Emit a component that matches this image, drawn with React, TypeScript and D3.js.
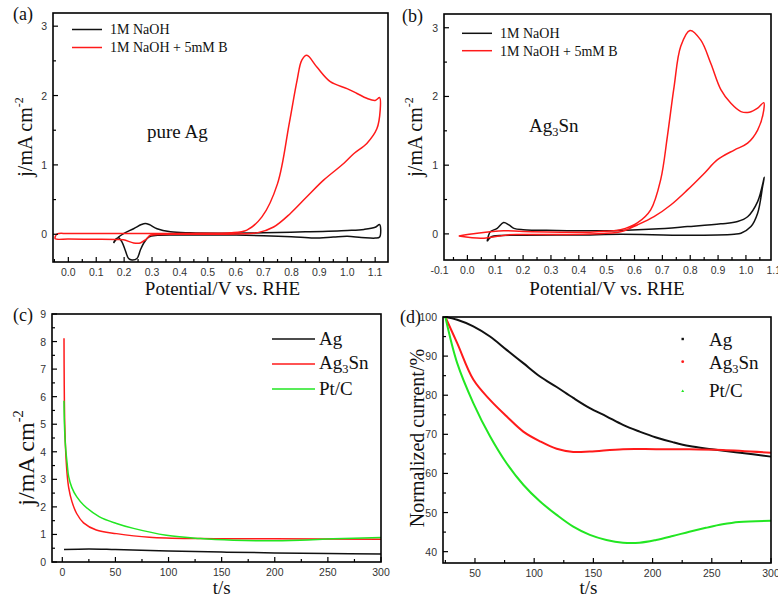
import React from "react";
import * as d3 from "d3";

// ---------- data ----------
// Panel (a): pure Ag CV
const aNaOH: [number, number][] = [
  [0.162, -0.125], [0.18, -0.04], [0.198, 0.01], [0.234, 0.08], [0.262, 0.14], [0.276, 0.155],
  [0.29, 0.14], [0.318, 0.08], [0.366, 0.035], [0.437, 0.02], [0.55, 0.015], [0.7, 0.02],
  [0.85, 0.035], [1.0, 0.055], [1.06, 0.07], [1.1, 0.1], [1.116, 0.14],
  [1.116, -0.04], [1.1, -0.055], [1.05, -0.045], [1.0, -0.03], [0.95, -0.04], [0.88, -0.055],
  [0.8, -0.035], [0.7, -0.02], [0.55, -0.01], [0.4, -0.01], [0.32, -0.015], [0.288, -0.04],
  [0.27, -0.13], [0.258, -0.23], [0.246, -0.35], [0.228, -0.37], [0.216, -0.35], [0.204, -0.23],
  [0.192, -0.11], [0.18, -0.05], [0.17, -0.07], [0.162, -0.125],
];
const aBoron: [number, number][] = [
  [-0.047, -0.035], [-0.04, 0.005], [0.0, 0.01], [0.2, 0.01], [0.4, 0.01], [0.5, 0.015],
  [0.58, 0.02], [0.64, 0.06], [0.694, 0.25], [0.75, 0.73], [0.792, 1.6], [0.82, 2.22],
  [0.837, 2.51], [0.855, 2.58], [0.891, 2.41], [0.939, 2.2], [0.999, 2.1], [1.035, 2.03],
  [1.07, 1.96], [1.1, 1.93], [1.116, 1.97],
  [1.118, 1.79], [1.106, 1.52], [1.07, 1.31], [1.023, 1.16], [0.987, 1.02], [0.915, 0.78],
  [0.855, 0.54], [0.796, 0.3], [0.736, 0.105], [0.676, 0.02], [0.6, 0.005], [0.5, 0.0],
  [0.4, 0.0], [0.32, -0.005], [0.294, -0.015], [0.276, -0.08], [0.258, -0.125], [0.234, -0.125],
  [0.198, -0.08], [0.17, -0.075], [0.1, -0.072], [0.0, -0.07], [-0.047, -0.065], [-0.047, -0.035],
];
// Panel (b): Ag3Sn CV
const bNaOH: [number, number][] = [
  [0.071, -0.11], [0.076, -0.02], [0.083, 0.035], [0.107, 0.08], [0.13, 0.165], [0.149, 0.13],
  [0.167, 0.08], [0.2, 0.06], [0.32, 0.05], [0.44, 0.045], [0.55, 0.05], [0.67, 0.07],
  [0.79, 0.106], [0.91, 0.146], [0.97, 0.18], [1.006, 0.25], [1.042, 0.47], [1.066, 0.825],
  [1.06, 0.69], [1.042, 0.3], [1.018, 0.106], [0.982, 0.01], [0.958, -0.005], [0.79, -0.02],
  [0.55, -0.005], [0.44, -0.015], [0.2, -0.02], [0.095, -0.03], [0.083, -0.05], [0.071, -0.11],
];
const bBoron: [number, number][] = [
  [-0.031, -0.03], [0.035, 0.01], [0.13, 0.045], [0.2, 0.035], [0.44, 0.025], [0.5, 0.04],
  [0.55, 0.06], [0.61, 0.16], [0.658, 0.35], [0.694, 0.79], [0.718, 1.42], [0.742, 2.14],
  [0.766, 2.73], [0.799, 2.96], [0.838, 2.82], [0.874, 2.48], [0.91, 2.1], [0.946, 1.9],
  [0.982, 1.78], [1.012, 1.77], [1.042, 1.83], [1.064, 1.91],
  [1.064, 1.8], [1.042, 1.51], [1.006, 1.32], [0.958, 1.22], [0.898, 1.08], [0.85, 0.88],
  [0.79, 0.64], [0.73, 0.42], [0.67, 0.25], [0.61, 0.13], [0.55, 0.03], [0.44, 0.0],
  [0.2, -0.01], [0.143, -0.015], [0.083, -0.05], [0.047, -0.063], [-0.031, -0.03],
];
// Panel (c): chronoamperometry
const cAg: [number, number][] = [
  [1.6, 0.45], [25, 0.47], [50, 0.45], [100, 0.4], [150, 0.36], [200, 0.33], [250, 0.31], [300, 0.29],
];
const cAg3Sn: [number, number][] = [
  [1.6, 8.12], [1.8, 6.5], [2.3, 5.0], [3.2, 4.0], [4.5, 3.2], [6, 2.7], [9, 2.2], [13.5, 1.76],
  [20, 1.42], [32, 1.16], [51, 1.03], [82, 0.9], [130, 0.85], [200, 0.84], [300, 0.83],
];
const cPtC: [number, number][] = [
  [1.6, 5.85], [2, 5.0], [3, 4.2], [4.5, 3.6], [6, 3.1], [9, 2.7], [13.5, 2.37], [20, 2.07],
  [35, 1.64], [51, 1.4], [67, 1.22], [98, 0.97], [130, 0.85], [161, 0.79], [192, 0.77],
  [224, 0.79], [255, 0.84], [300, 0.89],
];
// Panel (d): normalized current
const dAg: [number, number][] = [
  [25, 100], [35, 99.3], [48.6, 97.6], [62.7, 95], [76.7, 91.6], [90.8, 88.2], [104.9, 84.8],
  [119, 82.1], [133, 79.3], [147, 76.7], [161, 74.6], [175, 72.4], [189, 70.7], [203, 69.2],
  [217, 68], [231, 67], [250, 66.2], [274, 65.3], [300, 64.3],
];
const dAg3Sn: [number, number][] = [
  [25, 100], [35, 93.3], [48.6, 84], [62.7, 78.8], [76.7, 74.6], [90.8, 70.7], [105, 68.2],
  [119, 66.3], [133, 65.5], [147, 65.6], [175, 66.2], [203, 66.2], [231, 66.2], [259, 66.0], [300, 65.3],
];
const dPtC: [number, number][] = [
  [25, 100], [35, 88.2], [48.6, 78], [62.7, 69.5], [76.7, 62.6], [90.8, 57.1], [105, 52.8],
  [119, 49.4], [133, 46.4], [147, 44.3], [161, 43.0], [175, 42.3], [189, 42.3], [203, 43],
  [217, 44], [231, 45.1], [245, 46.1], [259, 47], [273, 47.6], [300, 47.9],
];

// tick labels
const aXTicks = [0, 0.1, 0.2, 0.3, 0.4, 0.5, 0.6, 0.7, 0.8, 0.9, 1.0, 1.1];
const bXTicks = [-0.1, 0, 0.1, 0.2, 0.3, 0.4, 0.5, 0.6, 0.7, 0.8, 0.9, 1.0, 1.1];
const cvYTicks = [0, 1, 2, 3];
const cXTicks = [0, 50, 100, 150, 200, 250, 300];
const cYTicks = [0, 1, 2, 3, 4, 5, 6, 7, 8, 9];
const dXTicks = [50, 100, 150, 200, 250, 300];
const dYTicks = [40, 50, 60, 70, 80, 90, 100];

const RED = "#ff1a1a";
const GREEN = "#22e622";
const BLACK = "#111";
const SERIF = "'Liberation Serif', 'Times New Roman', serif";
const SANS = "'Liberation Sans', Arial, sans-serif";

type Box = { x0: number; x1: number; y0: number; y1: number; xd: [number, number]; yd: [number, number] };

function Frame({ b, xt, yt, xMinor, yMinor, xFmt, yFmt }: {
  b: Box; xt: number[]; yt: number[]; xMinor: number; yMinor: number;
  xFmt: (v: number) => string; yFmt: (v: number) => string;
}) {
  const x = d3.scaleLinear().domain(b.xd).range([b.x0, b.x1]);
  const y = d3.scaleLinear().domain(b.yd).range([b.y1, b.y0]);
  const inY = (v: number) => v >= b.yd[0] - 1e-9 && v <= b.yd[1] + 1e-9;
  const xm = d3.range(Math.ceil(b.xd[0] / xMinor) * xMinor, b.xd[1] + 1e-9, xMinor);
  const ym = d3.range(Math.ceil(b.yd[0] / yMinor) * yMinor, b.yd[1] + 1e-9, yMinor);
  return (
    <g>
      {xm.map((v, i) => {
        const major = xt.some((t) => Math.abs(t - v) < 1e-6);
        const len = major ? 5 : 3;
        return <line key={"xm" + i} x1={x(v)} x2={x(v)} y1={b.y1} y2={b.y1 - len} stroke="#000" strokeWidth={1.2} />;
      })}
      {ym.map((v, i) => {
        const major = yt.some((t) => Math.abs(t - v) < 1e-6);
        const len = major ? 5 : 3;
        return <line key={"ym" + i} x1={b.x0} x2={b.x0 + len} y1={y(v)} y2={y(v)} stroke="#000" strokeWidth={1.2} />;
      })}
      {xt.map((v, i) => (
        <text key={"xl" + i} x={x(v)} y={b.y1 + 14} textAnchor="middle" fontFamily={SANS} fontSize={10.5} fill="#333">
          {xFmt(v)}
        </text>
      ))}
      {yt.filter(inY).map((v, i) => (
        <text key={"yl" + i} x={b.x0 - 6} y={y(v) + 4} textAnchor="end" fontFamily={SANS} fontSize={10.5} fill="#333">
          {yFmt(v)}
        </text>
      ))}
      <rect x={b.x0} y={b.y0} width={b.x1 - b.x0} height={b.y1 - b.y0} fill="none" stroke="#000" strokeWidth={1.6} />
    </g>
  );
}

function Curve({ b, data, color, w = 1.5 }: { b: Box; data: [number, number][]; color: string; w?: number }) {
  const x = d3.scaleLinear().domain(b.xd).range([b.x0, b.x1]);
  const y = d3.scaleLinear().domain(b.yd).range([b.y1, b.y0]);
  const line = d3.line<[number, number]>().x((d) => x(d[0])).y((d) => y(d[1])).curve(d3.curveCatmullRom.alpha(0.5));
  return <path d={line(data) || ""} fill="none" stroke={color} strokeWidth={w} strokeLinejoin="round" />;
}

function Sub({ base, sub, rest }: { base: string; sub: string; rest: string }) {
  return (
    <>
      {base}
      <tspan fontSize="0.65em" dy={4}>{sub}</tspan>
      <tspan dy={-4}>{rest}</tspan>
    </>
  );
}

function YTitle({ x, y, children, size = 20 }: { x: number; y: number; children: React.ReactNode; size?: number }) {
  return (
    <text transform={`translate(${x},${y}) rotate(-90)`} textAnchor="middle" fontFamily={SERIF} fontSize={size} fill="#111">
      {children}
    </text>
  );
}

const JTitle = ({ up = 9 }: { up?: number }) => (
  <>
    j/mA cm<tspan fontSize="0.6em" dy={-up}>-2</tspan>
  </>
);

export default function App() {
  const A: Box = { x0: 53, x1: 388, y0: 13, y1: 262, xd: [-0.055, 1.146], yd: [-0.4, 3.19] };
  const B: Box = { x0: 444, x1: 771, y0: 14, y1: 260, xd: [-0.084, 1.09], yd: [-0.38, 3.2] };
  const C: Box = { x0: 52, x1: 381, y0: 314, y1: 562, xd: [-9.7, 300], yd: [0, 9] };
  const D: Box = { x0: 443, x1: 771, y0: 317, y1: 563, xd: [23, 300], yd: [37.1, 100] };
  const f1 = (v: number) => v.toFixed(1);
  const f0 = (v: number) => String(v);
  const cx = (b: Box) => d3.scaleLinear().domain(b.xd).range([b.x0, b.x1]);

  return (
    <svg width={778} height={598} style={{ position: "absolute", left: 0, top: 0, background: "#fff" }}>
      <rect x={0} y={0} width={778} height={598} fill="#fff" />

      {/* Panel (a) */}
      <Curve b={A} data={aNaOH} color={BLACK} />
      <Curve b={A} data={aBoron} color={RED} />
      <Frame b={A} xt={aXTicks} yt={cvYTicks} xMinor={0.05} yMinor={0.5} xFmt={f1} yFmt={f0} />
      <line x1={72} x2={102} y1={29.5} y2={29.5} stroke={BLACK} strokeWidth={1.5} />
      <line x1={72} x2={102} y1={47.5} y2={47.5} stroke={RED} strokeWidth={1.5} />
      <text x={110} y={34} fontFamily={SERIF} fontSize={14} fill="#111">1M NaOH</text>
      <text x={110} y={52} fontFamily={SERIF} fontSize={14} fill="#111">1M NaOH + 5mM B</text>
      <text x={147} y={138} fontFamily={SERIF} fontSize={19} fill="#111">pure Ag</text>
      <text x={13} y={20} fontFamily={SERIF} fontSize={18} fill="#111">(a)</text>
      <text x={(A.x0 + A.x1) / 2 + 2} y={295} textAnchor="middle" fontFamily={SERIF} fontSize={19} fill="#111">Potential/V vs. RHE</text>
      <YTitle x={32} y={137}><JTitle /></YTitle>

      {/* Panel (b) */}
      <Curve b={B} data={bNaOH} color={BLACK} />
      <Curve b={B} data={bBoron} color={RED} />
      <Frame b={B} xt={bXTicks} yt={cvYTicks} xMinor={0.05} yMinor={0.5} xFmt={f1} yFmt={f0} />
      <line x1={462} x2={492} y1={33.3} y2={33.3} stroke={BLACK} strokeWidth={1.5} />
      <line x1={462} x2={492} y1={50.7} y2={50.7} stroke={RED} strokeWidth={1.5} />
      <text x={500} y={38} fontFamily={SERIF} fontSize={14} fill="#111">1M NaOH</text>
      <text x={500} y={55.5} fontFamily={SERIF} fontSize={14} fill="#111">1M NaOH + 5mM B</text>
      <text x={529} y={132} fontFamily={SERIF} fontSize={19} fill="#111"><Sub base="Ag" sub="3" rest="Sn" /></text>
      <text x={402} y={22} fontFamily={SERIF} fontSize={18} fill="#111">(b)</text>
      <text x={607} y={295} textAnchor="middle" fontFamily={SERIF} fontSize={19} fill="#111">Potential/V vs. RHE</text>
      <YTitle x={422} y={137}><JTitle /></YTitle>

      {/* Panel (c) */}
      <Curve b={C} data={cAg} color={BLACK} />
      <Curve b={C} data={cAg3Sn} color={RED} />
      <Curve b={C} data={cPtC} color={GREEN} />
      <Frame b={C} xt={cXTicks} yt={cYTicks} xMinor={25} yMinor={0.5} xFmt={f0} yFmt={f0} />
      <line x1={272} x2={315} y1={339} y2={339} stroke={BLACK} strokeWidth={1.5} />
      <line x1={272} x2={315} y1={364} y2={364} stroke={RED} strokeWidth={1.5} />
      <line x1={272} x2={315} y1={389} y2={389} stroke={GREEN} strokeWidth={1.5} />
      <text x={319} y={345} fontFamily={SERIF} fontSize={19} fill="#111">Ag</text>
      <text x={319} y={369} fontFamily={SERIF} fontSize={19} fill="#111"><Sub base="Ag" sub="3" rest="Sn" /></text>
      <text x={319} y={395} fontFamily={SERIF} fontSize={19} fill="#111">Pt/C</text>
      <text x={13} y={321} fontFamily={SERIF} fontSize={18} fill="#111">(c)</text>
      <text x={cx(C)(150)} y={594} textAnchor="middle" fontFamily={SERIF} fontSize={19} fill="#111">t/s</text>
      <YTitle x={34} y={458} size={24}><JTitle up={11} /></YTitle>

      {/* Panel (d) */}
      <Curve b={D} data={dAg} color={BLACK} w={2} />
      <Curve b={D} data={dAg3Sn} color={RED} w={2} />
      <Curve b={D} data={dPtC} color={GREEN} w={2} />
      <Frame b={D} xt={dXTicks} yt={dYTicks} xMinor={25} yMinor={5} xFmt={f0} yFmt={f0} />
      <rect x={681.5} y={337.8} width={2.4} height={2.4} fill={BLACK} />
      <circle cx={682.7} cy={361.7} r={1.4} fill={RED} />
      <path d="M681.2,392 L684.2,392 L682.7,389.4 Z" fill={GREEN} />
      <text x={709} y={346} fontFamily={SERIF} fontSize={19} fill="#111">Ag</text>
      <text x={709} y={368.5} fontFamily={SERIF} fontSize={19} fill="#111"><Sub base="Ag" sub="3" rest="Sn" /></text>
      <text x={709} y={397} fontFamily={SERIF} fontSize={19} fill="#111">Pt/C</text>
      <text x={400} y={323} fontFamily={SERIF} fontSize={18} fill="#111">(d)</text>
      <text x={cx(D)(150) - 5} y={594} textAnchor="middle" fontFamily={SERIF} fontSize={19} fill="#111">t/s</text>
      <YTitle x={424} y={438}>Normalized current/%</YTitle>
    </svg>
  );
}
